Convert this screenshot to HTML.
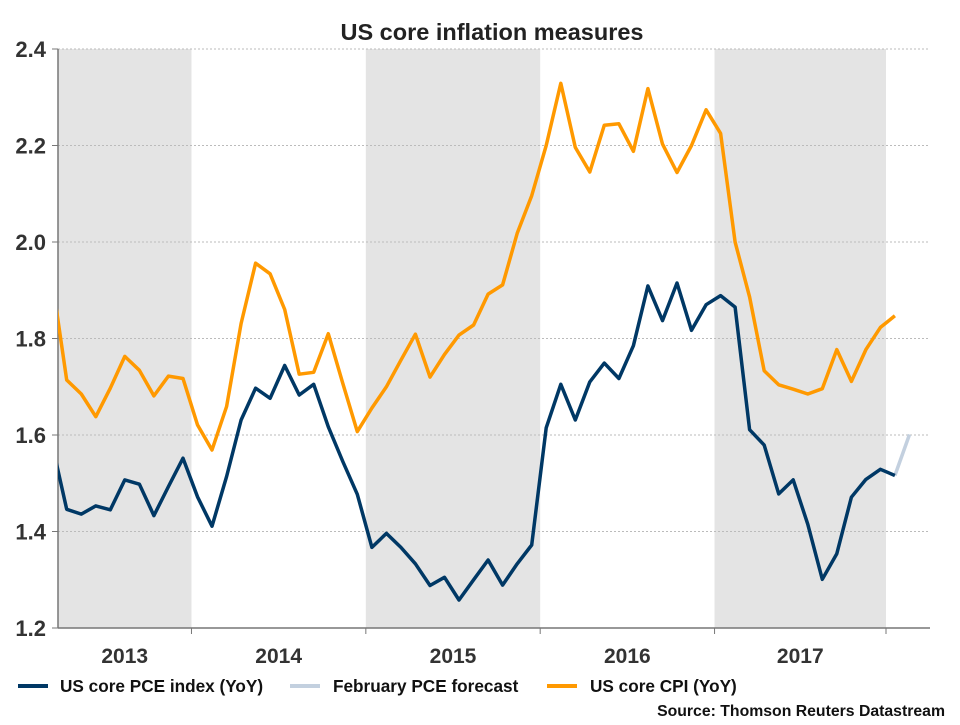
<!DOCTYPE html>
<html><head><meta charset="utf-8"><style>
body{margin:0;background:#fff;font-family:"Liberation Sans",Arial,sans-serif}
svg text{font-family:"Liberation Sans",Arial,sans-serif;font-weight:bold}
</style></head><body>
<svg id="chart" width="960" height="720">
<text x="492" y="40" text-anchor="middle" font-size="23.5" fill="#222">US core inflation measures</text>
<defs><clipPath id="clip"><rect x="58" y="40" width="880" height="590"/></clipPath></defs>
<g id="bands"></g><g id="grid"></g><g id="axes"></g>
<g id="series" clip-path="url(#clip)"></g>
<g>
<line x1="18" y1="686" x2="48" y2="686" stroke="#003865" stroke-width="4"/>
<text x="60" y="692" font-size="17.2" fill="#111">US core PCE index (YoY)</text>
<line x1="290" y1="686" x2="320" y2="686" stroke="#c3d0df" stroke-width="4"/>
<text x="333" y="692" font-size="17.2" fill="#111">February PCE forecast</text>
<line x1="547" y1="686" x2="577" y2="686" stroke="#ff9900" stroke-width="4"/>
<text x="590" y="692" font-size="17.2" fill="#111">US core CPI (YoY)</text>
</g>
<text x="945" y="716" text-anchor="end" font-size="15.8" fill="#111">Source: Thomson Reuters Datastream</text>
</svg>
<script>
// monthly, starting Mar 2013
const cpi=[1.92,1.714,1.685,1.638,1.697,1.763,1.734,1.681,1.722,1.717,
1.621,1.569,1.659,1.831,1.956,1.934,1.860,1.726,1.730,1.810,1.707,1.607,
1.656,1.700,1.755,1.809,1.720,1.767,1.807,1.828,1.892,1.911,2.018,2.096,
2.200,2.329,2.196,2.145,2.242,2.245,2.188,2.318,2.203,2.144,2.200,2.274,
2.225,2.000,1.886,1.733,1.704,1.695,1.685,1.696,1.777,1.711,1.777,1.823,1.847];
const pce=[1.58,1.446,1.436,1.453,1.445,1.507,1.498,1.433,1.493,1.552,
1.472,1.411,1.514,1.631,1.697,1.676,1.744,1.683,1.705,1.617,1.545,1.477,
1.367,1.396,1.367,1.333,1.288,1.305,1.258,1.300,1.341,1.289,1.333,1.372,
1.615,1.705,1.631,1.710,1.749,1.717,1.785,1.909,1.837,1.915,1.817,1.870,1.889,
1.865,1.611,1.579,1.478,1.507,1.415,1.301,1.354,1.471,1.508,1.529,1.516];
const forecast=[1.516,1.601]; // Jan 2018 -> Feb 2018
const forecastStart=58;
const yTicks=[1.2,1.4,1.6,1.8,2.0,2.2,2.4];
const years=["2013","2014","2015","2016","2017"];
const decIndex=[-3,9,21,33,45,57]; // index of December before each year start
const NS="http://www.w3.org/2000/svg";
const X=i=>52.2+14.53*i;
const Y=v=>628-(v-1.2)*482.5;
function mk(tag,attrs,parent){const e=document.createElementNS(NS,tag);for(const k in attrs)e.setAttribute(k,attrs[k]);document.getElementById(parent).appendChild(e);return e;}
const bnd=decIndex.map(i=>Math.max(58,X(i)+8.5));
bnd[0]=58;
bnd[5]=Math.min(bnd[5],886);
for(let k=0;k<years.length;k+=2){
 const r=mk('rect',{x:bnd[k],y:49,width:bnd[k+1]-bnd[k],height:579,fill:'#e4e4e4'},'bands');
 
 
}
yTicks.forEach(v=>{
 if(v>1.2){const g=mk('line',{x1:58,x2:930,y1:Y(v),y2:Y(v),stroke:'#bbb','stroke-dasharray':'2,2'},'grid');
 
 }
 const t=mk('line',{x1:52,x2:58,y1:Y(v),y2:Y(v),stroke:'#777'},'axes');
 
 
 const l=mk('text',{x:46,y:Y(v)+8,'text-anchor':'end','font-size':22,fill:'#333'},'axes');
 l.textContent=v.toFixed(1);
 
 
});
const ya=mk('line',{x1:58,x2:58,y1:49,y2:628,stroke:'#777','stroke-width':1.5},'axes');


const xa=mk('line',{x1:58,x2:930,y1:628,y2:628,stroke:'#777','stroke-width':1.5},'axes');


for(let k=1;k<bnd.length;k++){
 const t=mk('line',{x1:bnd[k],x2:bnd[k],y1:628,y2:634,stroke:'#777'},'axes');
 
 
}
years.forEach((y,k)=>{
 const t=mk('text',{x:(bnd[k]+bnd[k+1])/2,y:663,'text-anchor':'middle','font-size':21,fill:'#333'},'axes');
 t.textContent=y;
 
 
});
function line(vals,off,color,name){
 const d=vals.map((v,i)=>(i?'L':'M')+X(i+off).toFixed(1)+','+Y(v).toFixed(1)).join('');
 const p=mk('path',{d:d,fill:'none',stroke:color,'stroke-width':3.5,'stroke-linejoin':'round'},'series');
 
 
}
line(forecast,forecastStart,'#c3d0df','pce-forecast-line');
line(cpi,0,'#ff9900','core-cpi-line');
line(pce,0,'#003865','core-pce-line');
</script>
</body></html>
